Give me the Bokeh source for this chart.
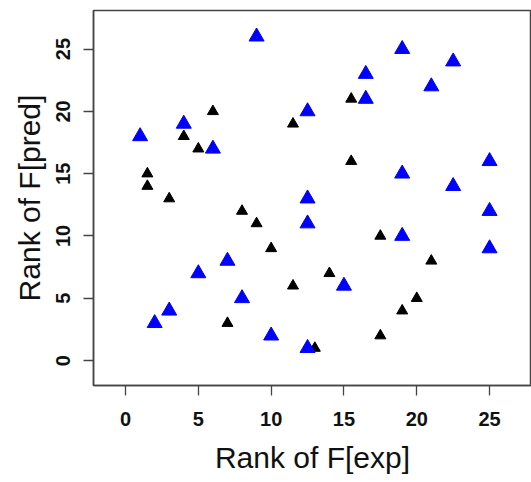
from bokeh.plotting import figure
from bokeh.embed import file_html
from bokeh.resources import INLINE
from bokeh.models import Range1d, FixedTicker

# Black (small) triangles
black_x = [6, 4, 5, 11.5, 1.5, 1.5, 3, 15.5, 15.5, 8, 9, 10, 11.5, 7, 17.5, 21, 14, 20, 19, 17.5, 13]
black_y = [20, 18, 17, 19, 15, 14, 13, 21, 16, 12, 11, 9, 6, 3, 10, 8, 7, 5, 4, 2, 1]

# Blue (large) triangles
blue_x = [1, 4, 6, 9, 12.5, 16.5, 16.5, 19, 21, 22.5, 25, 12.5, 12.5, 19, 22.5, 25, 25, 19, 7, 5, 8, 3, 2, 10, 12.5, 15]
blue_y = [18, 19, 17, 26, 20, 23, 21, 25, 22, 24, 16, 13, 11, 15, 14, 12, 9, 10, 8, 7, 5, 4, 3, 2, 1, 6]

ticks = [0, 5, 10, 15, 20, 25]
x_label = "Rank of F[exp]"
y_label = "Rank of F[pred]"

p = figure(width=531, height=482, output_backend="svg", toolbar_location=None,
           x_range=Range1d(-2.2, 27.88), y_range=Range1d(-2.0, 28.1),
           min_border_left=93, min_border_right=0, min_border_top=10, min_border_bottom=97)
p.grid.visible = False
p.outline_line_color = "#444444"
p.outline_line_width = 1.5
p.background_fill_color = "white"
p.border_fill_color = "white"

for ax in (p.xaxis[0], p.yaxis[0]):
    ax.ticker = FixedTicker(ticks=ticks)
    ax.minor_tick_line_color = None
    ax.major_tick_in = 0
    ax.major_tick_out = 10
    ax.major_tick_line_color = "#444444"
    ax.major_tick_line_width = 1.3
    ax.axis_line_color = "#444444"
    ax.axis_line_width = 1.5
    ax.major_label_text_font = "Liberation Sans"
    ax.major_label_text_font_style = "bold"
    ax.major_label_text_font_size = "20px"
    ax.major_label_text_color = "#111111"
    ax.axis_label_text_font = "Liberation Sans"
    ax.axis_label_text_font_style = "normal"
    ax.axis_label_text_font_size = "30px"
    ax.axis_label_text_color = "#111111"

p.xaxis.axis_label = x_label
p.yaxis.axis_label = y_label
p.xaxis.major_label_standoff = 16
p.yaxis.major_label_standoff = 13
p.yaxis.major_label_orientation = "vertical"
p.xaxis.axis_label_standoff = 12
p.yaxis.axis_label_standoff = 8

p.scatter(black_x, black_y, marker="triangle", size=11, fill_color="black", line_color="black")
p.scatter(blue_x, blue_y, marker="triangle", size=15, fill_color="#0000FF", line_color="#0000FF")

open("out.html", "w").write(file_html(p, INLINE))
